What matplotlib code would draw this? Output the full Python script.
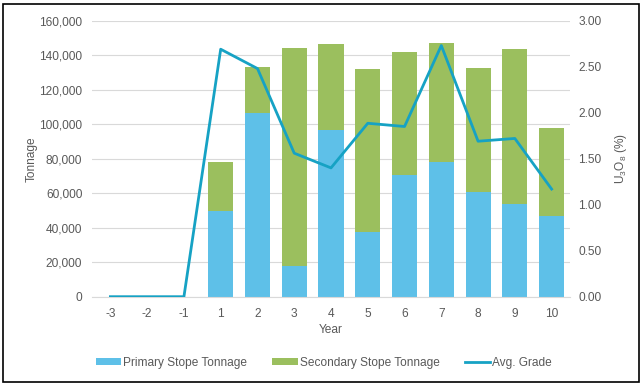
import matplotlib
matplotlib.use("Agg")
import matplotlib.pyplot as plt
from matplotlib.patches import Rectangle
import numpy as np

plt.rcParams['font.family'] = ['Liberation Sans', 'DejaVu Sans']
plt.rcParams['mathtext.default'] = 'regular'

years = ['-3', '-2', '-1', '1', '2', '3', '4', '5', '6', '7', '8', '9', '10']
primary = [0, 0, 0, 49900, 106300, 17800, 96600, 37300, 70500, 78300, 60500, 53700, 46800]
secondary = [0, 0, 0, 28000, 27000, 126500, 49700, 94500, 71200, 68600, 71900, 89700, 50800]
grade = [0, 0, 0, 2.69, 2.48, 1.56, 1.40, 1.885, 1.85, 2.73, 1.69, 1.72, 1.17]

c_primary = '#5EC0E8'
c_secondary = '#9BBF5E'
c_grade = '#16A2C4'
c_text = '#595959'
c_grid = '#D9D9D9'
fs = 8.6

fig = plt.figure(figsize=(6.44, 3.88), dpi=100)
ax = fig.add_axes([92 / 644, 91.3 / 388, 478 / 644, 276 / 388])
ax2 = ax.twinx()

x = np.arange(len(years))
ax.bar(x, primary, width=0.68, color=c_primary, label='Primary Stope Tonnage', zorder=2)
ax.bar(x, secondary, width=0.68, bottom=primary, color=c_secondary,
       label='Secondary Stope Tonnage', zorder=2)
ax2.plot(x, grade, color=c_grade, lw=2.0, label='Avg. Grade', zorder=3)

ax.set_xlim(-0.5, len(years) - 0.5)
ax.set_ylim(0, 160000)
ax.set_yticks(np.arange(0, 160001, 20000))
ax.yaxis.set_major_formatter(matplotlib.ticker.FuncFormatter(lambda v, p: f'{v:,.0f}'))
ax.set_xticks(x)
ax.set_xticklabels(years)
ax2.set_ylim(0, 3)
ax2.set_yticks(np.arange(0, 3.01, 0.5))
ax2.yaxis.set_major_formatter(matplotlib.ticker.FuncFormatter(lambda v, p: f'{v:.2f}'))

ax.grid(axis='y', color=c_grid, lw=0.8, zorder=0)
ax.set_axisbelow(True)
for a in (ax, ax2):
    for s in a.spines.values():
        s.set_visible(False)
    a.tick_params(length=0, labelsize=fs, colors=c_text)
ax.spines['bottom'].set_visible(True)
ax.spines['bottom'].set_color(c_grid)
ax.tick_params(axis='x', pad=8)
ax.tick_params(axis='y', pad=7)
ax2.tick_params(axis='y', pad=6)

ax.set_xlabel('Year', fontsize=fs, color=c_text, labelpad=3)
ax.set_ylabel('Tonnage', fontsize=fs, color=c_text, labelpad=1)
ax2.set_ylabel(r'U$_3$O$_8$ (%)', fontsize=fs, color=c_text, labelpad=8)

h1, l1 = ax.get_legend_handles_labels()
h2, l2 = ax2.get_legend_handles_labels()
fig.legend(h1 + h2, l1 + l2, loc='center', bbox_to_anchor=(324 / 644, 1 - 362.7 / 388),
           ncol=3, frameon=False, fontsize=fs, labelcolor=c_text,
           handlelength=2.1, handleheight=0.6, handletextpad=0.2, columnspacing=2.1)

fig.patches.append(Rectangle((3 / 644, 6 / 388), 636 / 644, 378 / 388, transform=fig.transFigure,
                             fill=False, edgecolor='black', lw=1.2))

fig.savefig('out.png', dpi=100)
